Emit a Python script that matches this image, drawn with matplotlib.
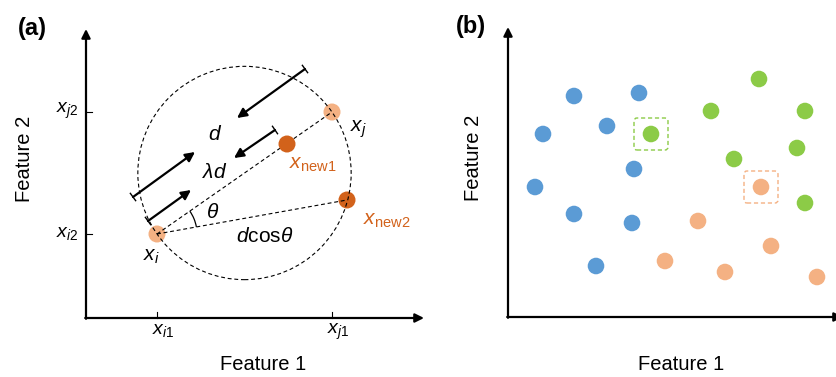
import numpy as np
import matplotlib
matplotlib.use("Agg")
import matplotlib.pyplot as plt
from matplotlib.patches import Circle, Arc, FancyBboxPatch

plt.rcParams['font.family'] = ['Liberation Sans', 'DejaVu Sans']
plt.rcParams['mathtext.fontset'] = 'custom'
plt.rcParams['mathtext.rm'] = 'Liberation Sans'
plt.rcParams['mathtext.it'] = 'Liberation Sans:italic'
plt.rcParams['mathtext.bf'] = 'Liberation Sans:bold'

# ---------------- data ----------------
# panel (a): SMOTE geometry (feature units, origin at the axes corner)
xi = (71, 84)
xj = (246, 206)
x_new1 = (201, 174)
x_new2 = (261, 118)
a_xticks = [71, 246]
a_xticklabels = [r'$x_{i\mathrm{1}}$', r'$x_{j\mathrm{1}}$']
a_yticks = [84, 206]
a_yticklabels = [r'$x_{i\mathrm{2}}$', r'$x_{j\mathrm{2}}$']
# double arrows (start with bar, end with head)
d_arrows = [((219, 249), (151, 200)), ((47, 121), (109, 166))]
ld_arrows = [((189, 188), (148, 160)), ((62, 97), (105, 128))]

# panel (b): three classes
blue_x = [66, 131, 35, 99, 126, 27, 66, 124, 88]
blue_y = [221, 224, 183, 191, 148, 130, 103, 94, 51]
green_x = [251, 203, 297, 143, 289, 226, 297]
green_y = [238, 206, 206, 183, 169, 158, 114]
orange_x = [253, 190, 263, 157, 217, 309]
orange_y = [130, 96, 71, 56, 45, 40]
boxed_green = (143, 183)
boxed_orange = (253, 130)

BLUE = '#5B9BD5'
GREEN = '#8CCB47'
PEACH = '#F4B183'
DARK = '#D2621B'

fig = plt.figure(figsize=(8.37, 3.77), dpi=100)

def setup(ax, ox, oy, left_px, width_px):
    ax.set_xlim(left_px - ox, left_px + width_px - ox)
    ax.set_ylim(oy - 377, oy)
    ax.axis('off')

def axes_arrows(ax, xmax, ymax):
    kw = dict(arrowstyle='-|>', lw=1.6, color='black', mutation_scale=13,
              shrinkA=0, shrinkB=0)
    a1 = ax.annotate('', xy=(0, ymax), xytext=(0, -0.8), arrowprops=kw,
                     zorder=5, annotation_clip=False)
    a2 = ax.annotate('', xy=(xmax, 0), xytext=(-0.8, 0), arrowprops=kw,
                     zorder=5, annotation_clip=False)
    a1.arrow_patch.set_clip_on(False)
    a2.arrow_patch.set_clip_on(False)

# ---------------- panel (a) ----------------
axa = fig.add_axes([0, 0, 0.5, 1])
setup(axa, 86, 318, 0, 418.5)
axes_arrows(axa, 338, 289)

for t in a_xticks:
    axa.plot([t, t], [0, 6], color='black', lw=0.8)
for t in a_yticks:
    axa.plot([0, 6], [t, t], color='black', lw=0.8)
for t, lab in zip(a_xticks, a_xticklabels):
    axa.text(t - 5, -4, lab, ha='left', va='top', fontsize=14)
for t, lab in zip(a_yticks, a_yticklabels):
    axa.text(-8, t + 1, lab, ha='right', va='center', fontsize=14)

axa.text(177, -47, 'Feature 1', ha='center', va='center', fontsize=14.5)
axa.text(-61, 159, 'Feature 2', ha='center', va='center', fontsize=14.5,
         rotation=90)
axa.text(-54, 290, '(a)', ha='center', va='center', fontsize=17,
         fontweight='bold')

# circle with diameter xi-xj
cx, cy = (xi[0] + xj[0]) / 2, (xi[1] + xj[1]) / 2
r = np.hypot(xj[0] - xi[0], xj[1] - xi[1]) / 2
axa.add_patch(Circle((cx, cy), r, fill=False, ls=(0, (3.5, 2.5)), lw=0.8,
                     color='black', zorder=3))
axa.plot([xi[0], xj[0]], [xi[1], xj[1]], ls=(0, (3.5, 2.5)), lw=0.8,
         color='black', zorder=3)
axa.plot([xi[0], x_new2[0]], [xi[1], x_new2[1]], ls=(0, (3.5, 2.5)), lw=0.8,
         color='black', zorder=3)

dot_r = 8.5
for p, c, z in [(xi, PEACH, 2), (xj, PEACH, 2), (x_new1, DARK, 4), (x_new2, DARK, 2)]:
    axa.add_patch(Circle(p, dot_r, color=c, lw=0, zorder=z))

# angle arc
a1 = np.degrees(np.arctan2(x_new2[1] - xi[1], x_new2[0] - xi[0]))
a2 = np.degrees(np.arctan2(xj[1] - xi[1], xj[0] - xi[0]))
axa.add_patch(Arc(xi, 80, 80, theta1=a1, theta2=a2, lw=0.9, color='black',
                  zorder=3))

def bar_arrow(ax, start, end):
    ax.annotate('', xy=end, xytext=start,
                arrowprops=dict(arrowstyle='-|>', lw=1.6, color='black',
                                mutation_scale=14, shrinkA=0, shrinkB=0),
                zorder=5)
    dx, dy = end[0] - start[0], end[1] - start[1]
    n = np.hypot(dx, dy)
    px, py = -dy / n * 4.5, dx / n * 4.5
    ax.plot([start[0] - px, start[0] + px], [start[1] - py, start[1] + py],
            color='black', lw=1.0, zorder=5)

for s, e in d_arrows + ld_arrows:
    bar_arrow(axa, s, e)

axa.text(129, 184, r'$d$', ha='center', va='center', fontsize=15)
axa.text(129, 146, r'$\lambda d$', ha='center', va='center', fontsize=15)
axa.text(127, 105, r'$\theta$', ha='center', va='center', fontsize=15)
axa.text(179, 81, r'$d\mathrm{cos}\theta$', ha='center', va='center', fontsize=15)
axa.text(264, 189, r'$x_j$', ha='left', va='center', fontsize=15)
axa.text(57, 61, r'$x_i$', ha='left', va='center', fontsize=15)
axa.text(203, 153, r'$x_{\mathrm{new1}}$', ha='left', va='center', fontsize=15,
         color=DARK)
axa.text(277, 97, r'$x_{\mathrm{new2}}$', ha='left', va='center', fontsize=15,
         color=DARK)

# ---------------- panel (b) ----------------
axb = fig.add_axes([0.5, 0, 0.5, 1])
setup(axb, 508, 317, 418.5, 418.5)
axes_arrows(axb, 335, 290)

for xs, ys, c in [(blue_x, blue_y, BLUE), (green_x, green_y, GREEN),
                  (orange_x, orange_y, PEACH)]:
    for x, y in zip(xs, ys):
        axb.add_patch(Circle((x, y), 8.3, color=c, lw=0, zorder=3))

for (bx, by), ec in [(boxed_green, GREEN), (boxed_orange, PEACH)]:
    axb.add_patch(FancyBboxPatch((bx - 13, by - 12), 26, 24,
                                 boxstyle='round,pad=4,rounding_size=3',
                                 fill=False, ec=ec, lw=1.0,
                                 ls=(0, (3, 2)), zorder=3))

axb.text(173, -47, 'Feature 1', ha='center', va='center', fontsize=14.5)
axb.text(-34, 159, 'Feature 2', ha='center', va='center', fontsize=14.5,
         rotation=90)
axb.text(-37, 290, '(b)', ha='center', va='center', fontsize=17,
         fontweight='bold')

fig.savefig('out.png', dpi=100)
